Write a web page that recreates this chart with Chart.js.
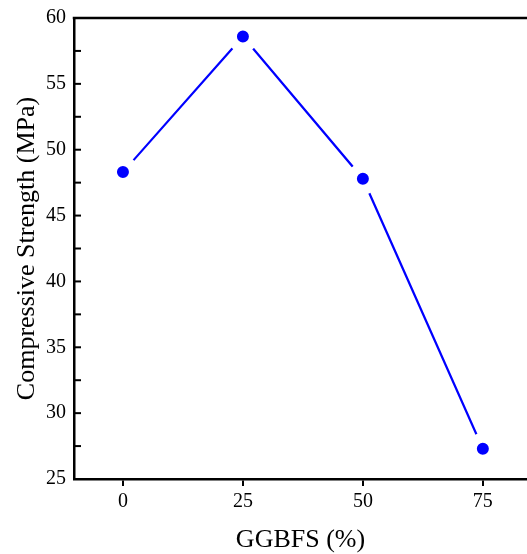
<!DOCTYPE html>
<html>
<head>
<meta charset="utf-8">
<script src="https://cdn.jsdelivr.net/npm/chart.js@4.4.1/dist/chart.umd.min.js"></script>
<style>
  html, body { margin: 0; padding: 0; background: #fff; }
  #wrap { width: 527px; height: 554px; }
</style>
</head>
<body>
<div id="wrap"><canvas id="strengthChart"></canvas></div>
<script>
// GGBFS replacement level vs compressive strength

const ggbfs = [0, 25, 50, 75];
const strength = [48.3, 58.6, 47.8, 27.3];
const xTicks = [0, 25, 50, 75];

const serif = "'Liberation Serif', 'Times New Roman', serif";

// top frame line + inward y ticks (Origin style)
const framePlugin = {
  id: "frame",
  afterDraw(chart) {
    const { ctx, chartArea } = chart;
    const yScale = chart.scales.y;
    ctx.save();
    ctx.strokeStyle = "#000";
    ctx.lineWidth = 2.5;
    ctx.beginPath();
    ctx.moveTo(chartArea.left - 1.25, chartArea.top);
    ctx.lineTo(chartArea.right, chartArea.top);
    ctx.stroke();

    ctx.lineWidth = 2;
    yScale.ticks.forEach((t) => {
      const y = yScale.getPixelForValue(t.value);
      ctx.beginPath();
      ctx.moveTo(chartArea.left, y);
      ctx.lineTo(chartArea.left + 7, y);
      ctx.stroke();
    });
    ctx.restore();
  },
};

new Chart(document.getElementById("strengthChart"), {
  type: "line",
  data: {
    datasets: [
      {
        data: ggbfs.map((x, i) => ({ x: x, y: strength[i] })),
        borderColor: "#0000ff",
        borderWidth: 2.2,
        backgroundColor: "#0000ff",
        pointBackgroundColor: "#0000ff",
        pointBorderColor: "#ffffff",
        pointRadius: 11,
        pointBorderWidth: 10,
        pointHoverRadius: 11,
        tension: 0,
        fill: false,
      },
    ],
  },
  options: {
    responsive: true,
    maintainAspectRatio: false,
    animation: false,
    layout: { autoPadding: false, padding: { top: 18, right: 0, bottom: 0, left: 0 } },
    plugins: {
      legend: { display: false },
      tooltip: { enabled: false },
    },
    scales: {
      x: {
        type: "linear",
        min: -10.2,
        max: 84.2,
        afterBuildTicks(scale) {
          scale.ticks = xTicks.map((v) => ({ value: v }));
        },
        afterFit(scale) {
          scale.height = 75;
          scale.paddingLeft = 0;
          scale.paddingRight = 0;
        },
        border: { display: true, color: "#000", width: 2.5 },
        grid: {
          display: true,
          drawOnChartArea: false,
          drawTicks: true,
          tickLength: 7,
          color: "#000",
          lineWidth: 2,
        },
        ticks: {
          color: "#000",
          font: { family: serif, size: 20 },
          padding: 4,
          maxRotation: 0,
        },
        title: {
          display: true,
          text: "GGBFS (%)",
          color: "#000",
          font: { family: serif, size: 26, lineHeight: 1 },
          padding: { top: 0, bottom: 1 },
        },
      },
      y: {
        min: 25,
        max: 60,
        afterFit(scale) {
          scale.width = 74;
          scale.paddingTop = 0;
          scale.paddingBottom = 0;
        },
        border: { display: true, color: "#000", width: 2.5 },
        grid: { display: false, drawTicks: false },
        ticks: {
          stepSize: 2.5,
          autoSkip: false,
          color: "#000",
          font: { family: serif, size: 20 },
          padding: 8,
          callback: (v) => (v % 5 === 0 ? v : ""),
        },
        title: {
          display: true,
          text: "Compressive Strength (MPa)",
          color: "#000",
          font: { family: serif, size: 26, lineHeight: 1 },
          padding: { top: 14, bottom: 0 },
        },
      },
    },
  },
  plugins: [framePlugin],
});
</script>
</body>
</html>
